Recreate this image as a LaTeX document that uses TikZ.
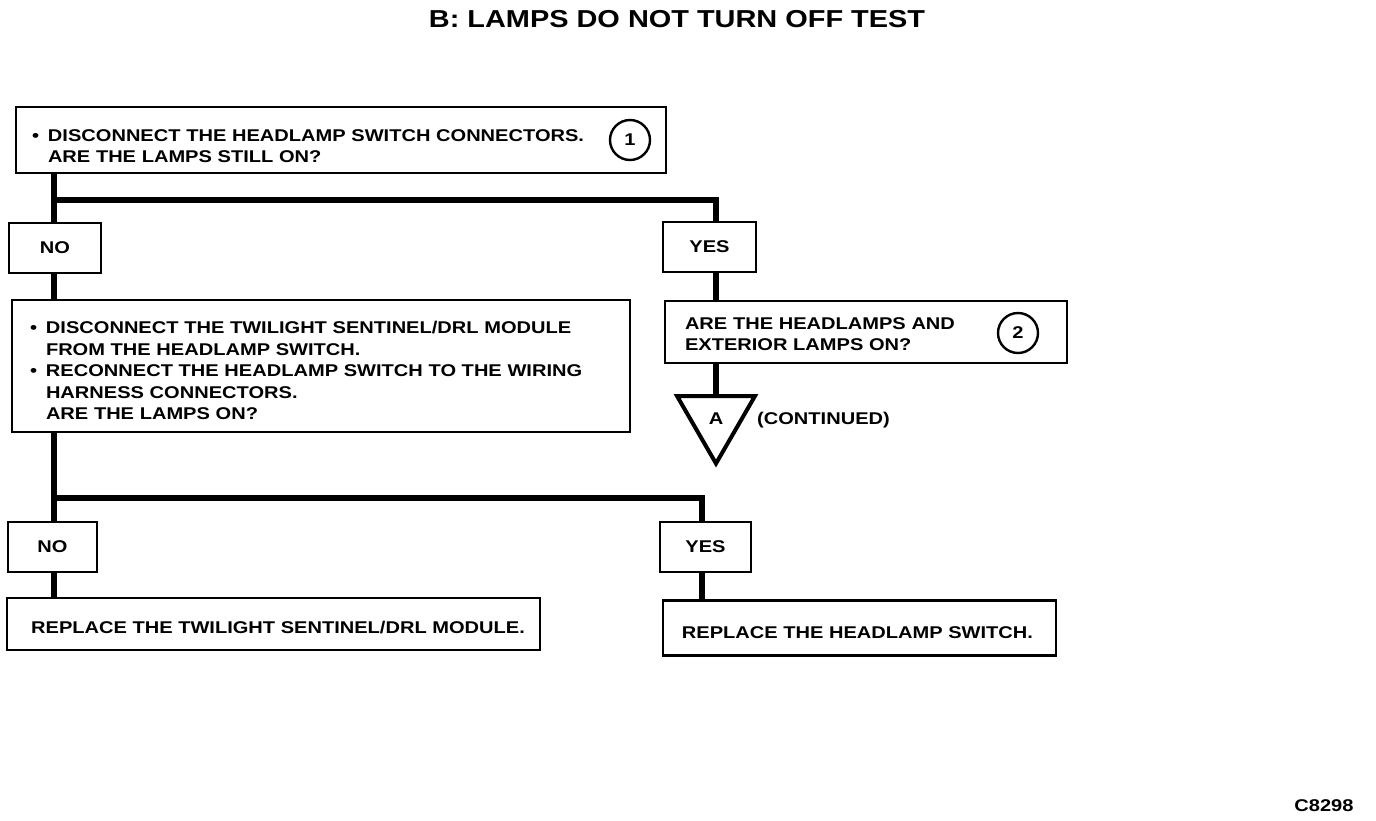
\documentclass[tikz,border=0pt]{standalone}
\usepackage{fontspec}
\setmainfont{Liberation Sans}[FakeStretch=1.18]
\usetikzlibrary{shapes.geometric}
\tikzset{
  box/.style={draw, rectangle, line width=2.6pt, inner ysep=0pt, align=left,
    font=\fontsize{17}{21.5}\selectfont\bfseries},
  ansbox/.style={draw, rectangle, line width=2.6pt, inner sep=0pt,
    font=\fontsize{17}{20}\selectfont\bfseries},
  conn/.style={line width=5.5pt},
  num/.style={draw, circle, line width=2.4pt, minimum size=40pt, inner sep=0pt,
    font=\fontsize{17}{20}\selectfont\bfseries},
  plain/.style={inner sep=0pt, font=\fontsize{17}{20}\selectfont\bfseries}
}
\newcommand{\bul}{\makebox[16pt][l]{•}}
\newcommand{\ind}{\hspace*{16pt}}
\newcommand{\lift}[1]{\rule{0pt}{#1}}
\begin{document}
\begin{tikzpicture}[x=1pt,y=-1pt]
\useasboundingbox (0,0) rectangle (1376,820);
\fill[white] (0,0) rectangle (1376,820);

\node[inner sep=0pt, font=\fontsize{24.5}{28}\selectfont\bfseries] (title) at (677,19) {B: LAMPS DO NOT TURN OFF TEST};

% boxes
\node[box, minimum width=650pt, minimum height=66pt, text width=618pt, inner xsep=16pt] (b1) at (341,140)
  {\lift{24pt}\bul DISCONNECT THE HEADLAMP SWITCH CONNECTORS.\\\ind ARE THE LAMPS STILL ON?};
\node[num] (c1) at (630,140) {1};

\node[ansbox, minimum width=92pt, minimum height=50pt] (no1) at (55,248) {NO};
\node[ansbox, minimum width=93pt, minimum height=50pt] (yes1) at (709.5,247) {YES};

\node[box, minimum width=618pt, minimum height=132pt, text width=582pt, inner xsep=18pt] (b2) at (321,366)
  {\lift{22pt}\bul DISCONNECT THE TWILIGHT SENTINEL/DRL MODULE\\
   \ind FROM THE HEADLAMP SWITCH.\\
   \bul RECONNECT THE HEADLAMP SWITCH TO THE WIRING\\
   \ind HARNESS CONNECTORS.\\
   \ind ARE THE LAMPS ON?};

\node[box, minimum width=402pt, minimum height=62pt, text width=362pt, inner xsep=20pt] (b3) at (866,332)
  {\lift{16pt}ARE THE HEADLAMPS AND\\EXTERIOR LAMPS ON?};
\node[num] (c2) at (1018,333) {2};

\node[draw, regular polygon, regular polygon sides=3, shape border rotate=180,
  minimum size=90pt, inner sep=0pt, line width=4pt,
  font=\fontsize{17}{20}\selectfont\bfseries] (tri) at (716,418.5) {A};
\node[plain, anchor=west] (cont) at (757,420) {(CONTINUED)};

\node[ansbox, minimum width=89pt, minimum height=50pt] (no2) at (52.5,547) {NO};
\node[ansbox, minimum width=91pt, minimum height=50pt] (yes2) at (705.5,547) {YES};

\node[box, minimum width=533pt, minimum height=52pt, inner xsep=0pt] (b4) at (273.5,624)
  {\lift{18.5pt}\hspace*{9pt}REPLACE THE TWILIGHT SENTINEL/DRL MODULE.};
\node[box, minimum width=393pt, minimum height=55pt, inner xsep=0pt] (b5) at (859.5,628)
  {\lift{22pt}REPLACE THE HEADLAMP SWITCH.\hspace*{4pt}};

\node[plain] (code) at (1324,806) {C8298};

% connectors
\coordinate (j1) at (54,200);
\coordinate (j2) at (716,200);
\coordinate (j3) at (54,498);
\coordinate (j4) at (702,498);

\draw[conn] (j1 |- b1.south) -- (j1 |- no1.north);
\draw[conn] (j1) -| (j2 |- yes1.north);
\draw[conn] (j1 |- no1.south) -- (j1 |- b2.north);
\draw[conn] (j2 |- yes1.south) -- (j2 |- b3.north);
\draw[conn] (j2 |- b3.south) -- (tri.north);

\draw[conn] (j3 |- b2.south) -- (j3 |- no2.north);
\draw[conn] (j3) -| (j4 |- yes2.north);
\draw[conn] (j3 |- no2.south) -- (j3 |- b4.north);
\draw[conn] (j4 |- yes2.south) -- (j4 |- b5.north);
\end{tikzpicture}
\end{document}
